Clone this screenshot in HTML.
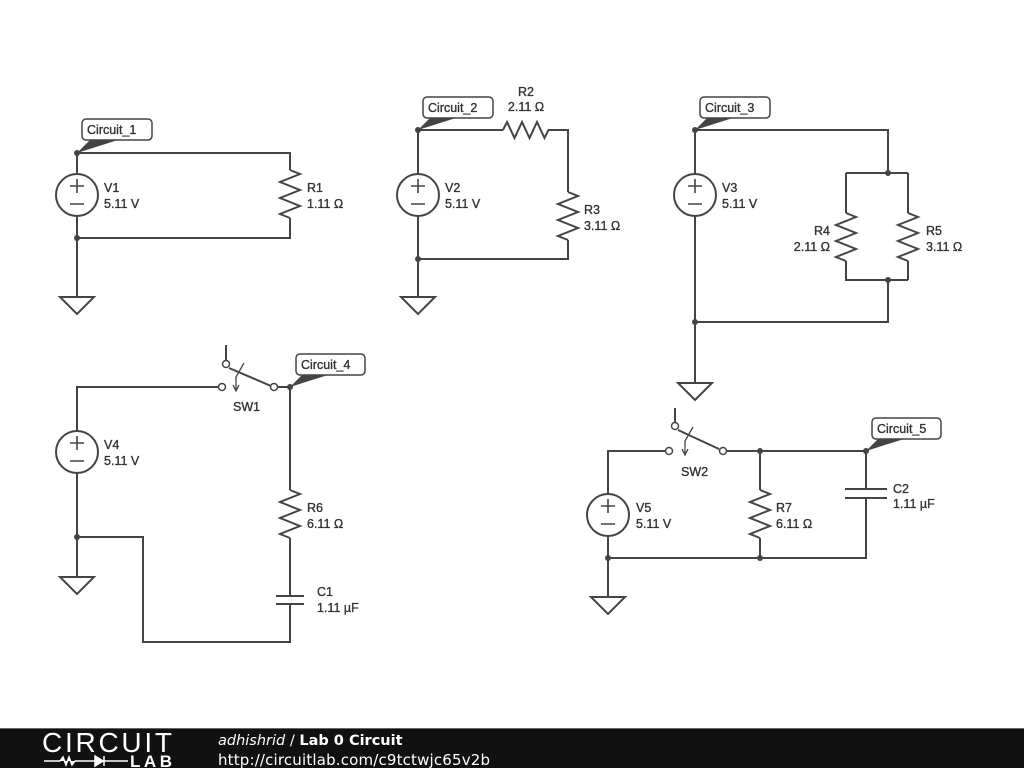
<!DOCTYPE html>
<html><head><meta charset="utf-8"><style>
body{margin:0;background:#fff;}
svg{display:block;}
text{font-family:"Liberation Sans",sans-serif;font-size:12.5px;fill:#333;stroke:#333;stroke-width:0.35;}
.w{stroke:#444;stroke-width:2;fill:none;}
</style></head><body>
<svg width="1024" height="768" viewBox="0 0 1024 768">
<defs>
<g id="vs"><circle r="21" fill="#fff" stroke="#444" stroke-width="2"/><path d="M-7 -9h14M0 -16v14M-7 9h14" stroke="#444" stroke-width="1.6"/></g>
<path id="rv" d="M0 0l10 4l-20 8l20 8l-20 8l20 8l-20 8l10 4" stroke="#444" stroke-width="2" fill="none"/>
<path id="gnd" d="M-17 0h34l-17 17z" fill="#fff" stroke="#444" stroke-width="2"/>
</defs>
<g class="w">
<path d="M77 153H290V170M290 218V238H77M77 153V174M77 216V297"/>
<path d="M418 130H503M548 130H568V192M568 240V259H418M418 130V174M418 216V297"/>
<path d="M503 130l4 -8l7.5 16l7.5 -16l7.5 16l7.5 -16l7.5 16l4 -8"/>
<path d="M695 130H888V173M846 173H908M846 173V213M908 173V213M846 261V280H908M908 261V280M888 280V322H695M695 130V174M695 216V383"/>
<path d="M77 431V387H218M278 387H290V490M290 538V596M290 604V642H143V537H77M77 473V577"/>
<path d="M276 596H304M276 604H304"/>
<path d="M226 345V360M229 368L271 386"/>
<path d="M608 494V451H665M727 451H866V489M866 498V558H608M760 451V490M760 538V558M608 536V597"/>
<path d="M845 489H887M845 498H887"/>
<path d="M675 408V422M678 430L719 449"/>
</g>
<g stroke="#444" stroke-width="1.5" fill="#fff">
<circle cx="222" cy="387" r="3.5"/><circle cx="226" cy="364" r="3.5"/><circle cx="274" cy="387" r="3.5"/>
<circle cx="669" cy="451" r="3.5"/><circle cx="675" cy="426" r="3.5"/><circle cx="723" cy="451" r="3.5"/>
</g>
<g stroke="#444" stroke-width="1.3" fill="none">
<path d="M244 363L236 377V390M233 385L236 391L239 385"/>
<path d="M693 427L685 441V454M682 449L685 455L688 449"/>
</g>
<use href="#rv" x="290" y="170"/>
<use href="#rv" x="568" y="192"/>
<use href="#rv" x="846" y="213"/>
<use href="#rv" x="908" y="213"/>
<use href="#rv" x="290" y="490"/>
<use href="#rv" x="760" y="490"/>
<use href="#vs" x="77" y="195"/>
<use href="#vs" x="418" y="195"/>
<use href="#vs" x="695" y="195"/>
<use href="#vs" x="77" y="452"/>
<use href="#vs" x="608" y="515"/>
<use href="#gnd" x="77" y="297"/>
<use href="#gnd" x="418" y="297"/>
<use href="#gnd" x="695" y="383"/>
<use href="#gnd" x="77" y="577"/>
<use href="#gnd" x="608" y="597"/>
<g fill="#444">
<circle cx="77" cy="153" r="3"/><circle cx="77" cy="238" r="3"/>
<circle cx="418" cy="130" r="3"/><circle cx="418" cy="259" r="3"/>
<circle cx="695" cy="130" r="3"/><circle cx="888" cy="173" r="3"/><circle cx="888" cy="280" r="3"/><circle cx="695" cy="322" r="3"/>
<circle cx="290" cy="387" r="3"/><circle cx="77" cy="537" r="3"/>
<circle cx="760" cy="451" r="3"/><circle cx="866" cy="451" r="3"/><circle cx="760" cy="558" r="3"/><circle cx="608" cy="558" r="3"/>
<path d="M77 153L90 140H118z"/>
<path d="M418 130L431 117H459z"/>
<path d="M695 130L708 117H736z"/>
<path d="M290 387L303 374H331z"/>
<path d="M866 451L879 438H907z"/>
</g>
<g fill="#fff" stroke="#444" stroke-width="1.5">
<rect x="82" y="119" width="70" height="21" rx="4"/>
<rect x="423" y="97" width="70" height="21" rx="4"/>
<rect x="700" y="97" width="70" height="21" rx="4"/>
<rect x="296" y="354" width="69" height="21" rx="4"/>
<rect x="872" y="418" width="69" height="21" rx="4"/>
</g>
<g style="font-size:13px">
<text x="87" y="134">Circuit_1</text>
<text x="428" y="112">Circuit_2</text>
<text x="705" y="112">Circuit_3</text>
<text x="301" y="369">Circuit_4</text>
<text x="877" y="433">Circuit_5</text>
</g>
<text x="104" y="192">V1</text><text x="104" y="208">5.11 V</text>
<text x="307" y="192">R1</text><text x="307" y="208">1.11 Ω</text>
<text x="445" y="192">V2</text><text x="445" y="208">5.11 V</text>
<text x="526" y="96" text-anchor="middle">R2</text><text x="526" y="111" text-anchor="middle">2.11 Ω</text>
<text x="584" y="214">R3</text><text x="584" y="230">3.11 Ω</text>
<text x="722" y="192">V3</text><text x="722" y="208">5.11 V</text>
<text x="830" y="235" text-anchor="end">R4</text><text x="830" y="251" text-anchor="end">2.11 Ω</text>
<text x="926" y="235">R5</text><text x="926" y="251">3.11 Ω</text>
<text x="104" y="449">V4</text><text x="104" y="465">5.11 V</text>
<text x="233" y="411">SW1</text>
<text x="307" y="512">R6</text><text x="307" y="528">6.11 Ω</text>
<text x="317" y="596">C1</text><text x="317" y="612">1.11 µF</text>
<text x="636" y="512">V5</text><text x="636" y="528">5.11 V</text>
<text x="681" y="476">SW2</text>
<text x="776" y="512">R7</text><text x="776" y="528">6.11 Ω</text>
<text x="893" y="493">C2</text><text x="893" y="508">1.11 µF</text>
<rect x="0" y="728" width="1024" height="40" fill="#111"/>
<rect x="0" y="728" width="1024" height="1" fill="#666"/>
<text x="42" y="752" textLength="130" style="font-size:28px;fill:#fff;stroke:none">CIRCUIT</text>
<path d="M44 761H60l3 -4l3 8l3 -8l3 8l3 -4H95M95 756v10l8 -5zM104 756v10M104 761H128" stroke="#fff" stroke-width="1.5" fill="#fff"/>
<text x="130" y="767" textLength="42" style="font-size:17px;fill:#fff;stroke:none;font-weight:bold">LAB</text>
<text x="218" y="745" style="font-family:'DejaVu Sans',sans-serif;font-size:14.5px;fill:#fff;stroke:none"><tspan font-style="italic">adhishrid</tspan> / <tspan font-weight="bold">Lab 0 Circuit</tspan></text>
<text x="218" y="765" textLength="272" style="font-family:'DejaVu Sans',sans-serif;font-size:15px;fill:#fff;stroke:none">http://circuitlab.com/c9tctwjc65v2b</text>
</svg>
</body></html>
